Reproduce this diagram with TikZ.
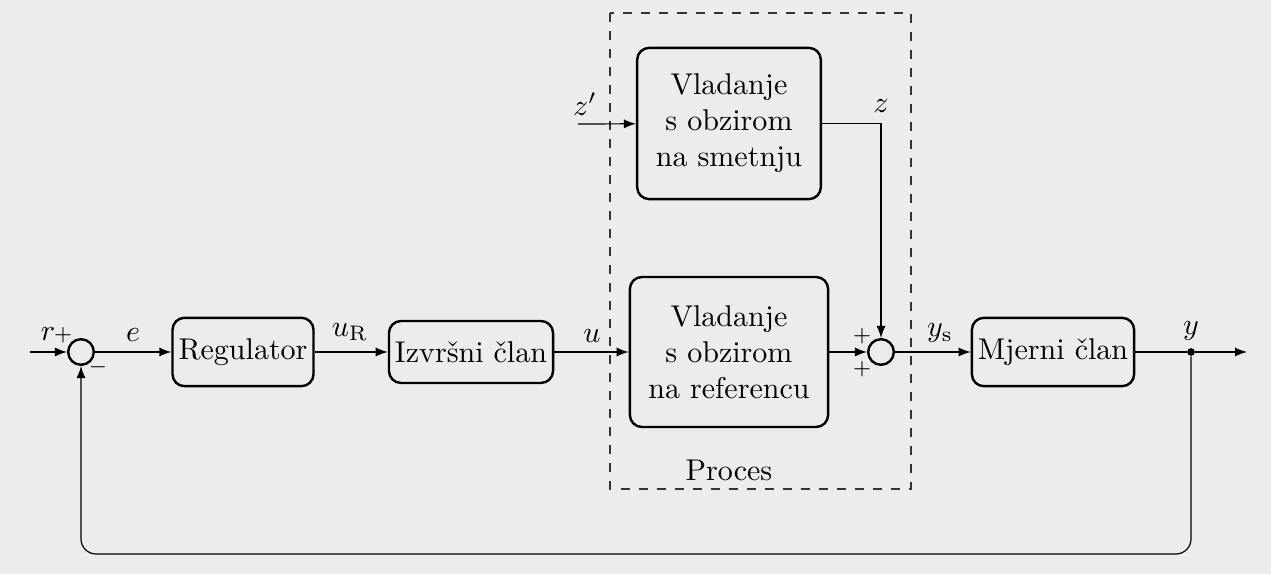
\documentclass[tikz,border=0pt]{standalone}
\usetikzlibrary{arrows}
\definecolor{backdrop}{HTML}{ECECEC}
\begin{document}
\begin{tikzpicture}[x=0.0117cm,y=-0.0117cm,
    blok/.style={draw, thick, rounded corners=4pt, align=center, inner sep=2pt},
    zbroj/.style={draw, thick, circle, minimum size=0.30cm, inner sep=0pt},
    predznak/.style={font=\scriptsize, inner sep=0pt}]
      % Background
      \fill[backdrop] (0,0) rectangle (1271,574);

      % Box for the process
      \draw[dashed, black!80] (610,13) rectangle (911,489);
      \node (proces) at (729,470) {Proces};

      % Blocks
      \node[blok, minimum width=1.64cm, minimum height=0.80cm] (reg) at (243,352) {Regulator};
      \node[blok, minimum width=1.90cm, minimum height=0.725cm] (izvrs) at (471,352) {Izvr\v{s}ni \v{c}lan};
      \node[blok, minimum width=2.32cm, minimum height=1.755cm] (ref) at (729,352) {Vladanje\\s obzirom\\na referencu};
      \node[blok, minimum width=2.15cm, minimum height=1.77cm] (smet) at (729,123.5) {Vladanje\\s obzirom\\na smetnju};
      \node[blok, minimum width=1.87cm, minimum height=0.80cm] (mjer) at (1053,352) {Mjerni \v{c}lan};

      % Summing points
      \node[zbroj] (sum1) at (81,352) {};
      \node[zbroj] (sum2) at (881,352) {};
      \node[circle, fill, inner sep=0pt, minimum size=0.09cm] (dot) at (1191,352) {};

      % Free ends
      \coordinate (rin) at (30,352);
      \coordinate (zin) at (578,124);
      \coordinate (yout) at (1247,352);

      % Connections
      \draw[-latex] (rin) -- (sum1);
      \draw[-latex] (sum1) -- (reg);
      \draw[-latex] (reg) -- (izvrs);
      \draw[-latex] (izvrs) -- (ref);
      \draw[-latex] (ref) -- (sum2);
      \draw[-latex] (sum2) -- (mjer);
      \draw (mjer) -- (dot);
      \draw[-latex] (dot) -- (yout);
      \draw[-latex] (zin) -- (smet);
      \draw[-latex] (smet) -| (sum2);
      \draw[-latex, rounded corners=5pt] (dot) -- ++(0,202) -| (sum1);

      % Signals
      \node (lr) at (48,334) {$r$};
      \node[predznak] (p1) at (63,335) {$+$};
      \node[predznak] (m1) at (98,367) {$-$};
      \node (le) at (133,335) {$e$};
      \node (lur) at (350,332) {$u_\mathrm{R}$};
      \node (lu) at (592,336) {$u$};
      \node (lzp) at (585,104) {$z'$};
      \node (lz) at (881,106) {$z$};
      \node[predznak] (p2) at (862,336) {$+$};
      \node[predznak] (p3) at (862,369) {$+$};
      \node (lys) at (940,333) {$y_\mathrm{s}$};
      \node (ly) at (1191,331) {$y$};
    \end{tikzpicture}
\end{document}
